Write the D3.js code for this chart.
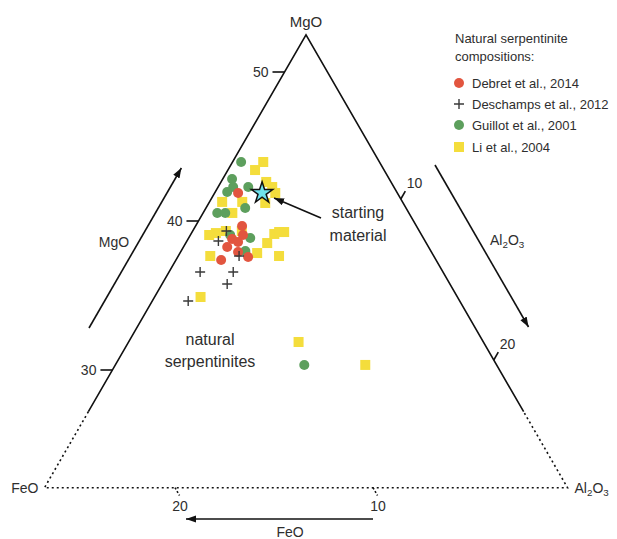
<!DOCTYPE html>
<html>
<head>
<meta charset="utf-8">
<script src="https://cdn.jsdelivr.net/npm/d3@7"></script>
<style>
  body { margin: 0; background: #fff; }
  text { font-family: "Helvetica Neue", Helvetica, Arial, "Liberation Sans", sans-serif; fill: #2e2e2e; }
</style>
</head>
<body>
<svg id="chart" width="617" height="539"></svg>
<script>
// ---- Compositions (wt%) : MgO and Al2O3 for each study ----
const debretMgO    = [41.88, 39.66, 39.06, 38.79, 38.59, 38.26, 37.92, 37.58, 37.38];
const debretAl2O3  = [ 1.06,  2.30,  2.63,  2.17,  2.58,  2.15,  2.89,  3.59,  2.23];

const deschampsMgO   = [39.33, 38.66, 37.65, 36.58, 36.58, 35.77, 34.63];
const deschampsAl2O3 = [ 1.61,  1.49,  3.07,  1.47,  3.25,  3.30,  1.73];

const guillotMgO   = [43.96, 42.82, 42.28, 42.28, 41.95, 40.87, 40.54, 40.54, 39.06, 38.86, 37.99, 30.34];
const guillotAl2O3 = [ 0.26,  0.30,  0.61,  1.42,  0.44,  1.91,  0.56,  0.99,  1.94,  3.11,  3.25,  9.96];

const liMgO   = [43.96, 43.42, 42.62, 42.28, 41.88, 41.28, 41.28, 41.21, 40.54, 39.19, 39.33, 39.33,
                 39.06, 38.52, 39.13, 39.26, 39.26, 37.65, 37.85, 37.65, 34.90, 31.88, 30.34];
const liAl2O3 = [ 1.45,  1.26,  2.23,  2.71,  3.06,  0.48,  1.56,  2.83,  1.37,  1.11,  1.58,  2.44,
                  0.81,  4.18,  4.28,  4.48,  4.75,  1.52,  3.95,  5.22,  2.27,  8.94, 13.24];

// Starting material
const startMgO = [41.88];
const startAl2O3 = [2.35];

// Axis ticks and legend entries
const mgoTicks = [30, 40, 50];
const al2o3Ticks = [10, 20];
const feoTicks = [10, 20];
const legendLabels = ["Debret et al., 2014", "Deschamps et al., 2012", "Guillot et al., 2001", "Li et al., 2004"];

// ---- Layout ----
const svg = d3.select("#chart");
const cx = 306;                       // x of the MgO apex
const t = Math.tan(Math.PI / 6);      // edge slope (dx per dy)
const mgoTop = 52.5, mgoBase = 22.1, mgoSolid = 27.2;

const yMgO  = d3.scaleLinear().domain([30, 50]).range([370, 72]);   // MgO: height in the triangle
const yAl   = d3.scaleLinear().domain([10, 20]).range([199, 360]);  // Al2O3: position along right edge
const xFeO  = d3.scaleLinear().domain([10, 20]).range([373, 175]);  // FeO: position along base

const yTop = yMgO(mgoTop), yBase = yMgO(mgoBase), ySolid = yMgO(mgoSolid);
const leftX  = y => cx - (y - yTop) * t;
const rightX = y => cx + (y - yTop) * t;

// A point sits at the MgO height, on the line of constant Al2O3 (parallel to the left edge)
function project(mgo, al) {
  const ym = yMgO(mgo), ya = yAl(al);
  return [rightX(ya) - (ym - ya) * t, ym];
}

const ink = "#111";
const colors = { debret: "#e2553f", deschamps: "#3a3a3a", guillot: "#5d9f5d", li: "#f4dd3c", star: "#6fe3ee" };

// Arrowhead marker
const defs = svg.append("defs");
defs.append("marker")
  .attr("id", "head").attr("markerUnits", "userSpaceOnUse")
  .attr("viewBox", "0 -4 10 8").attr("refX", 10).attr("refY", 0)
  .attr("markerWidth", 10).attr("markerHeight", 8).attr("orient", "auto")
  .append("path").attr("d", "M0,-3.6L10,0L0,3.6Z").attr("fill", ink);

// ---- Triangle frame ----
const frame = svg.append("g").attr("fill", "none").attr("stroke", ink).attr("stroke-width", 1.6);
frame.append("path").attr("d", d3.line()([[leftX(ySolid), ySolid], [cx, yTop], [rightX(ySolid), ySolid]]));
frame.append("path").attr("stroke-dasharray", "2,3")
  .attr("d", d3.line()([[leftX(ySolid), ySolid], [leftX(yBase), yBase], [rightX(yBase), yBase], [rightX(ySolid), ySolid]]));

// ---- Ticks ----
const ticks = svg.append("g");
mgoTicks.forEach(v => {
  const y = yMgO(v), xe = leftX(y);
  ticks.append("line").attr("x1", xe - 12).attr("x2", xe).attr("y1", y).attr("y2", y)
    .attr("stroke", ink).attr("stroke-width", 1.6);
  ticks.append("text").attr("x", xe - 16).attr("y", y + 5).attr("text-anchor", "end")
    .attr("font-size", 14).text(v);
});
al2o3Ticks.forEach(v => {
  const y = yAl(v), xe = rightX(y);
  ticks.append("line").attr("x1", xe).attr("y1", y).attr("x2", xe + 4.5).attr("y2", y - 7.8)
    .attr("stroke", ink).attr("stroke-width", 1.6);
  ticks.append("text").attr("x", xe + 6).attr("y", y - 11).attr("font-size", 14).text(v);
});
feoTicks.forEach(v => {
  const x = xFeO(v);
  ticks.append("line").attr("x1", x).attr("y1", yBase).attr("x2", x + 4.5).attr("y2", yBase + 7.8)
    .attr("stroke", ink).attr("stroke-width", 1.6).attr("stroke-dasharray", "2,2");
  ticks.append("text").attr("x", x + 5).attr("y", yBase + 23).attr("text-anchor", "middle")
    .attr("font-size", 14).text(v);
});

// ---- Corner and axis labels ----
function al2o3Label(sel, fs) {
  sel.append("tspan").text("Al");
  sel.append("tspan").attr("font-size", fs * 0.7).attr("dy", 3).text("2");
  sel.append("tspan").attr("dy", -3).text("O");
  sel.append("tspan").attr("font-size", fs * 0.7).attr("dy", 3).text("3");
}
svg.append("text").attr("x", cx).attr("y", 27).attr("text-anchor", "middle").attr("font-size", 15).text("MgO");
svg.append("text").attr("x", leftX(yBase) - 6).attr("y", yBase + 5).attr("text-anchor", "end").attr("font-size", 14).text("FeO");
svg.append("text").attr("x", rightX(yBase) + 7).attr("y", yBase + 5).attr("font-size", 14).call(al2o3Label, 14);

// Direction arrows
const arrows = svg.append("g").attr("stroke", ink).attr("stroke-width", 1.6).attr("marker-end", "url(#head)");
arrows.append("line").attr("x1", 89).attr("y1", 328).attr("x2", 89 + 160 * t).attr("y2", 168);
arrows.append("line").attr("x1", 435).attr("y1", 165).attr("x2", 435 + 162 * t).attr("y2", 327);
arrows.append("line").attr("x1", 373).attr("y1", 519).attr("x2", 186).attr("y2", 519);

svg.append("text").attr("x", 114).attr("y", 247).attr("text-anchor", "middle").attr("font-size", 14).text("MgO");
svg.append("text").attr("x", 490).attr("y", 245).attr("font-size", 14).call(al2o3Label, 14);
svg.append("text").attr("x", 290).attr("y", 537).attr("text-anchor", "middle").attr("font-size", 14).text("FeO");

// ---- Data marks ----
const pts = (m, a) => m.map((v, i) => project(v, a[i]));
const marks = svg.append("g");

marks.selectAll("rect.li").data(pts(liMgO, liAl2O3)).join("rect").attr("class", "li")
  .attr("x", d => d[0] - 5).attr("y", d => d[1] - 5).attr("width", 10).attr("height", 10)
  .attr("fill", colors.li);

marks.selectAll("circle.guillot").data(pts(guillotMgO, guillotAl2O3)).join("circle").attr("class", "guillot")
  .attr("cx", d => d[0]).attr("cy", d => d[1]).attr("r", 5).attr("fill", colors.guillot);

marks.selectAll("circle.debret").data(pts(debretMgO, debretAl2O3)).join("circle").attr("class", "debret")
  .attr("cx", d => d[0]).attr("cy", d => d[1]).attr("r", 5).attr("fill", colors.debret);

const plus = d3.symbol(d3.symbolCross);
marks.selectAll("path.deschamps").data(pts(deschampsMgO, deschampsAl2O3)).join("path").attr("class", "deschamps")
  .attr("transform", d => `translate(${d[0]},${d[1]})`)
  .attr("d", "M-5,0H5M0,-5V5").attr("stroke", colors.deschamps).attr("stroke-width", 1.4).attr("fill", "none");

// Starting material star and its annotation
const star = project(startMgO[0], startAl2O3[0]);
svg.append("line").attr("x1", 321).attr("y1", 218).attr("x2", star[0] + 12).attr("y2", star[1] + 5)
  .attr("stroke", ink).attr("stroke-width", 1.6).attr("marker-end", "url(#head)");
svg.append("path").attr("transform", `translate(${star[0]},${star[1]}) rotate(0)`)
  .attr("d", d3.symbol(d3.symbolStar, 140)()).attr("fill", colors.star).attr("stroke", ink).attr("stroke-width", 1.5);

svg.append("text").attr("x", 358).attr("y", 218).attr("text-anchor", "middle").attr("font-size", 16).text("starting");
svg.append("text").attr("x", 358).attr("y", 241).attr("text-anchor", "middle").attr("font-size", 16).text("material");
svg.append("text").attr("x", 210).attr("y", 345).attr("text-anchor", "middle").attr("font-size", 16).text("natural");
svg.append("text").attr("x", 210).attr("y", 367).attr("text-anchor", "middle").attr("font-size", 16).text("serpentinites");

// ---- Legend ----
const lg = svg.append("g").attr("transform", "translate(455,0)");
lg.append("text").attr("x", 0).attr("y", 43).attr("font-size", 13).text("Natural serpentinite");
lg.append("text").attr("x", 0).attr("y", 61).attr("font-size", 13).text("compositions:");
const rowY = [83, 104, 125, 147];
legendLabels.forEach((lab, i) => {
  const y = rowY[i];
  if (i === 0 || i === 2) {
    lg.append("circle").attr("cx", 4).attr("cy", y).attr("r", 5).attr("fill", i === 0 ? colors.debret : colors.guillot);
  } else if (i === 1) {
    lg.append("path").attr("transform", `translate(4,${y})`).attr("d", "M-5,0H5M0,-5V5")
      .attr("stroke", colors.deschamps).attr("stroke-width", 1.4);
  } else {
    lg.append("rect").attr("x", -1).attr("y", y - 5).attr("width", 10).attr("height", 10).attr("fill", colors.li);
  }
  lg.append("text").attr("x", 17).attr("y", y + 5).attr("font-size", 13).text(lab);
});
</script>
</body>
</html>
